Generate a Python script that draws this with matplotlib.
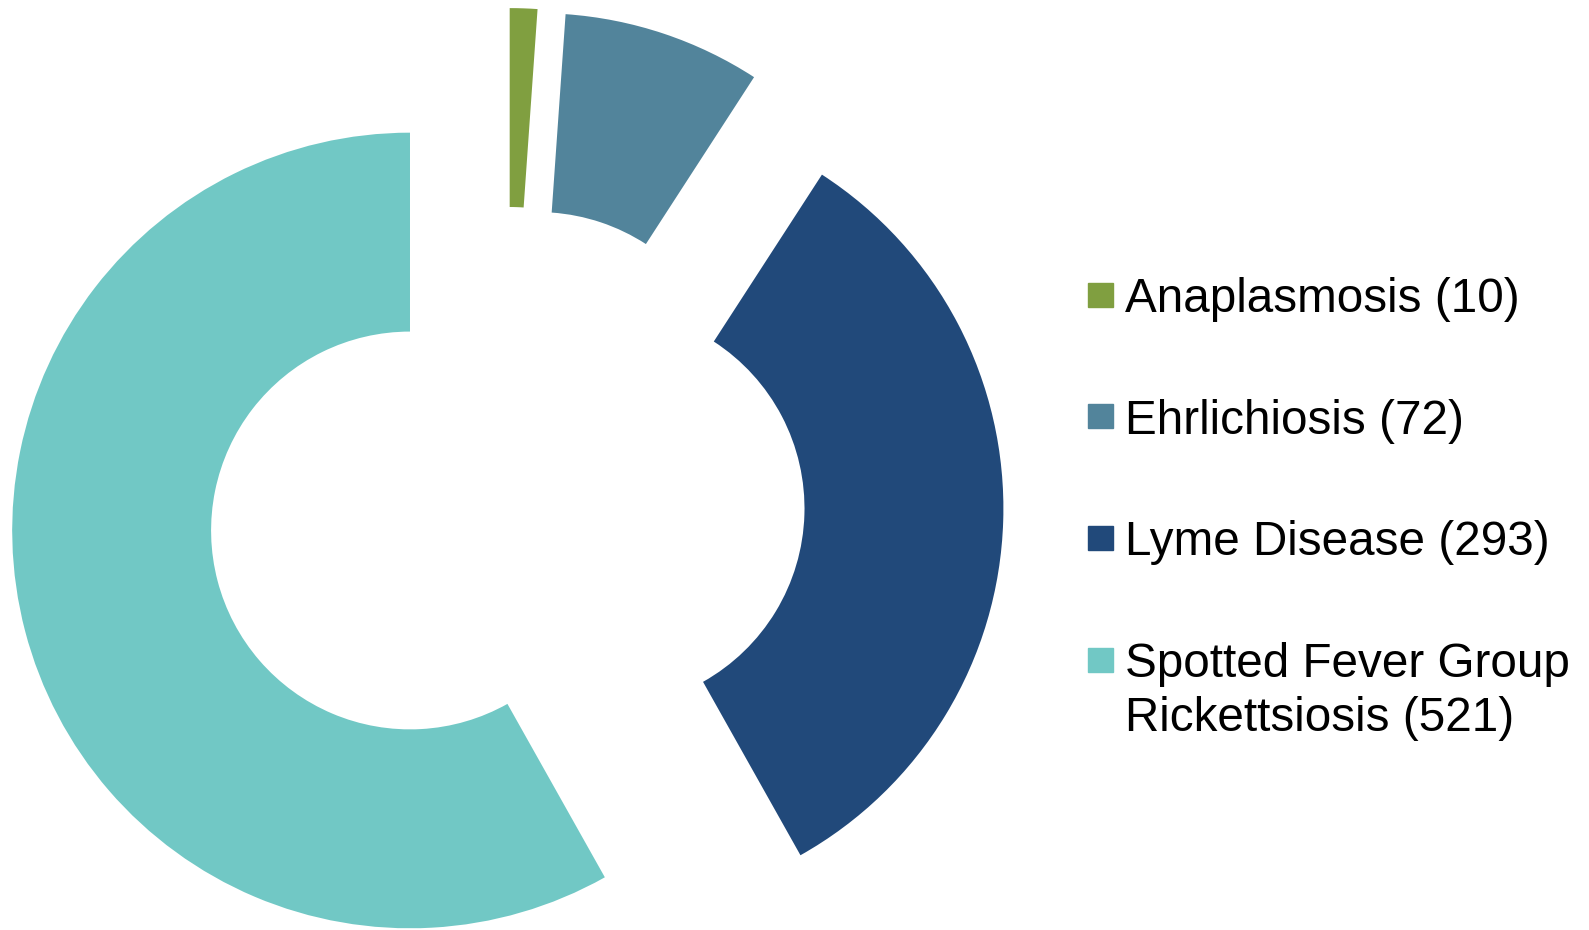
import matplotlib.pyplot as plt
from matplotlib.patches import Rectangle

diseases = ['Anaplasmosis', 'Ehrlichiosis', 'Lyme Disease', 'Spotted Fever Group\nRickettsiosis']
cases = [10, 72, 293, 521]
colors = ['#809F40', '#52849B', '#21497A', '#71C8C5']

W, H = 1589, 930
fig = plt.figure(figsize=(W / 100, H / 100), dpi=100)

# pie axes on the left, scale ~398 px per radius unit
px = 397.8
cx, cy = 506.2, 505.3
ax_w = 1010
ax = fig.add_axes([0, 0, ax_w / W, 1])
ax.pie(cases, colors=colors, startangle=90, counterclock=False,
       explode=[0.25] * len(cases), radius=1,
       wedgeprops=dict(width=0.5, linewidth=0))
ax.set_aspect('auto')
ax.set_xlim(-cx / px, (ax_w - cx) / px)
ax.set_ylim(-(H - cy) / px, cy / px)
ax.axis('off')

# legend drawn by hand so the marker sits on the first line of a label
baselines = [312, 433.5, 555, 677]
fs = 34.3
for name, n, c, b in zip(diseases, cases, colors, baselines):
    lines = (name + ' (%d)' % n).split('\n')
    mid = b - 17
    fig.patches.append(Rectangle((1088 / W, 1 - (mid + 12) / H), 25 / W, 24 / H,
                                 transform=fig.transFigure, color=c, figure=fig))
    for i, line in enumerate(lines):
        fig.text(1125 / W, 1 - (b + i * 54) / H, line, fontsize=fs,
                 family='Liberation Sans', va='baseline', ha='left')

fig.savefig('out.png', dpi=100)
